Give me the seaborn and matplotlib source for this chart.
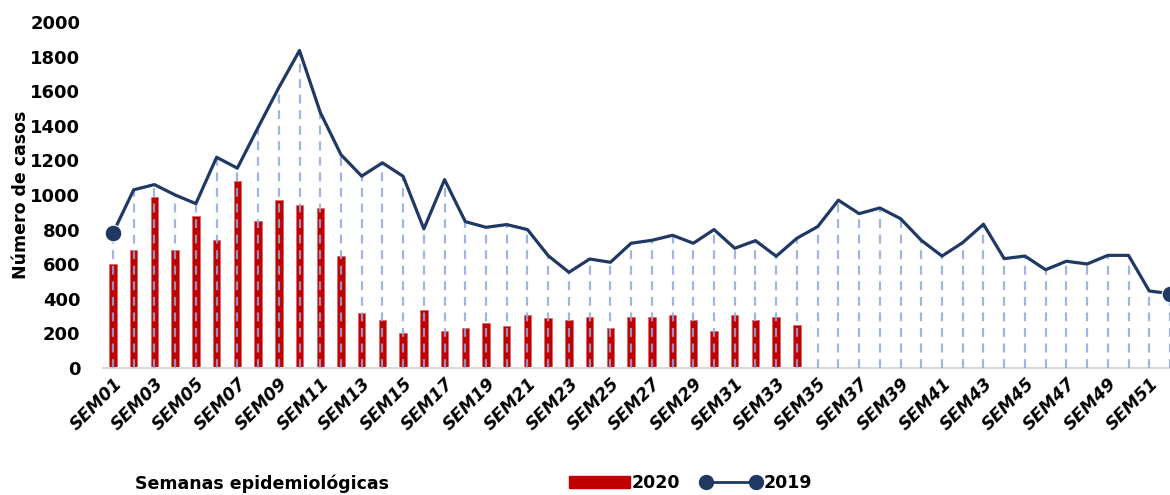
import numpy as np
import pandas as pd
import matplotlib
matplotlib.use("Agg")
import matplotlib.pyplot as plt
from matplotlib.lines import Line2D
from matplotlib.patches import Patch
import seaborn as sns

weeks = [f"SEM{i:02d}" for i in range(1, 53)]
cases_2020 = [600, 680, 990, 680, 880, 740, 1080, 850, 970, 940, 925, 650,
              320, 275, 200, 335, 215, 230, 262, 245, 305, 290, 275, 292,
              230, 292, 292, 305, 277, 215, 305, 277, 292, 247]
cases_2019 = [780, 1030, 1060, 1000, 950, 1218, 1155, 1390, 1620, 1835, 1478, 1233,
              1109, 1186, 1108, 804, 1089, 846, 813, 829, 800, 649, 553, 630,
              611, 721, 738, 767, 721, 800, 692, 736, 646, 750, 817, 970,
              892, 925, 863, 738, 647, 725, 831, 632, 647, 568, 617, 601,
              651, 651, 445, 430]
tick_labels = weeks[::2]

sns.set_theme(style="white")
plt.rcParams['font.family'] = ['DejaVu Sans']
plt.rcParams['text.color'] = 'black'
plt.rcParams['xtick.color'] = 'black'
plt.rcParams['ytick.color'] = 'black'
plt.rcParams['axes.labelcolor'] = 'black'
plt.rcParams['ytick.major.pad'] = 16
plt.rcParams['ytick.major.size'] = 0
plt.rcParams['xtick.major.size'] = 0
plt.rcParams['xtick.major.pad'] = 5

fig = plt.figure(figsize=(11.7, 4.95), dpi=100)
ax = fig.add_axes([0.0877, 0.2566, 1.0 - 0.0877, 0.699])

df20 = pd.DataFrame({"week": weeks[:len(cases_2020)], "cases": cases_2020})
sns.barplot(data=df20, x="week", y="cases", order=weeks, color="#C00000",
            saturation=1, width=0.36, ax=ax, zorder=2, edgecolor="#E06666", linewidth=0.6)

xpos = np.arange(len(cases_2019))
ax.vlines(xpos, 0, cases_2019, colors="#8FAADC", linestyles=(0, (4, 3)),
          linewidth=1.6, alpha=0.85, zorder=3)
sns.lineplot(x=xpos, y=cases_2019, ax=ax, color="#1F3864", linewidth=2.3,
             marker="o", markersize=12, markevery=[0, len(cases_2019) - 1],
             zorder=4, clip_on=False)

ax.set_xlim(-0.5, 51.0)
ax.set_ylim(0, 2000)
ax.set_yticks(range(0, 2001, 200))
ax.set_yticklabels([str(v) for v in range(0, 2001, 200)], fontsize=13, fontweight="bold")
ax.set_xticks(np.arange(0, 52, 2))
ax.set_xticklabels(tick_labels, rotation=45, ha="right", rotation_mode="anchor",
                   fontsize=12.5, fontweight="bold", fontstyle="italic")
ax.yaxis.set_tick_params(pad=16, length=0)
for s in ["top", "right", "left"]:
    ax.spines[s].set_visible(False)
ax.spines["bottom"].set_color("#D9D9D9")
ax.spines["bottom"].set_linewidth(1.5)
ax.set_xlabel("")
ax.set_ylabel("Número de casos", fontsize=12.5, fontweight="bold")
ax.yaxis.set_label_coords(-0.068, 0.5)

fig.text(0.115, 0.012, "Semanas epidemiológicas", fontsize=12.5, fontweight="bold")

handles = [Patch(facecolor="#C00000", edgecolor="#C00000", label="2020"),
           Line2D([0], [0], color="#1F3864", linewidth=2, marker="o", markersize=10,
                  label="2019")]
fig.legend(handles=handles, loc="lower center", bbox_to_anchor=(0.59, -0.025), ncol=2,
           frameon=False, numpoints=2, handlelength=3.5, handletextpad=0.1,
           columnspacing=1.2, prop={"weight": "bold", "size": 12.5})

fig.savefig("out.png", dpi=100)
